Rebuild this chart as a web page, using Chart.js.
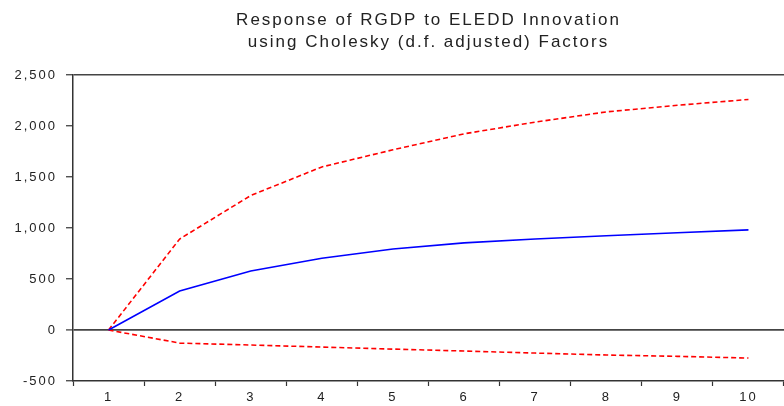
<!DOCTYPE html>
<html>
<head>
<meta charset="utf-8">
<script src="https://cdn.jsdelivr.net/npm/chart.js@4"></script>
<style>
html,body{margin:0;padding:0;background:#fff;}
#wrap{width:784px;height:406px;position:relative;}
</style>
</head>
<body>
<div id="wrap"><canvas id="c" width="784" height="406"></canvas></div>
<script>
const periods = ['1','2','3','4','5','6','7','8','9','10'];
const response = [0, 383, 580, 705, 795, 855, 893, 925, 955, 983];
const upperBand = [0, 893, 1320, 1600, 1768, 1925, 2040, 2140, 2205, 2262];
const lowerBand = [0, -128, -147, -167, -187, -206, -226, -245, -258, -275];
const titleLines = ['Response of RGDP to ELEDD Innovation', 'using Cholesky (d.f. adjusted) Factors'];
const yMin = -500, yMax = 2500, yStep = 500;

const FONT = "'Liberation Sans', Arial, sans-serif";

const wideText = {
  id: 'wideText',
  beforeLayout(chart) { chart.ctx.letterSpacing = '2px'; },
  beforeDraw(chart) { chart.ctx.letterSpacing = '2px'; }
};

new Chart(document.getElementById('c'), {
  type: 'line',
  plugins: [wideText],
  data: {
    labels: periods,
    datasets: [
      {label: 'Response', data: response, borderColor: '#0000ff', borderWidth: 1.6, pointRadius: 0, tension: 0, fill: false},
      {label: 'Upper', data: upperBand, borderColor: '#ff0000', borderWidth: 1.6, borderDash: [5, 3], pointRadius: 0, tension: 0, fill: false},
      {label: 'Lower', data: lowerBand, borderColor: '#ff0000', borderWidth: 1.6, borderDash: [5, 3], pointRadius: 0, tension: 0, fill: false}
    ]
  },
  options: {
    responsive: false,
    animation: false,
    layout: {padding: {left: 0, right: 0, top: 0, bottom: 0}},
    plugins: {
      legend: {display: false},
      tooltip: {enabled: false},
      title: {
        display: true,
        text: titleLines,
        color: '#222',
        font: {family: FONT, size: 17, weight: 'normal', lineHeight: 1.3},
        padding: {top: 9, bottom: 22},
        fullSize: false
      }
    },
    scales: {
      x: {
        type: 'category',
        offset: true,
        grid: {offset: true, drawOnChartArea: false, tickLength: 5, tickColor: '#333', tickWidth: 1.2},
        border: {display: true, color: '#333', width: 1.5},
        ticks: {color: '#222', font: {family: FONT, size: 13}, padding: 4, maxRotation: 0, autoSkip: false},
        afterFit: (a) => { a.height = 25; }
      },
      y: {
        min: yMin, max: yMax,
        grid: {
          drawOnChartArea: true,
          color: (ctx) => (ctx.tick && (ctx.tick.value === 0 || ctx.tick.value === yMax)) ? '#444' : 'rgba(0,0,0,0)',
          lineWidth: (ctx) => (ctx.tick && ctx.tick.value === 0) ? 1.8 : 1.5,
          tickLength: 7, tickColor: '#333', tickWidth: 1.2
        },
        border: {display: true, color: '#333', width: 1.5},
        ticks: {
          stepSize: yStep, color: '#222', font: {family: FONT, size: 13}, padding: 9,
          callback: (v) => v.toLocaleString('en-US')
        },
        afterFit: (a) => { a.width = 73; }
      }
    }
  }
});
</script>
</body>
</html>
